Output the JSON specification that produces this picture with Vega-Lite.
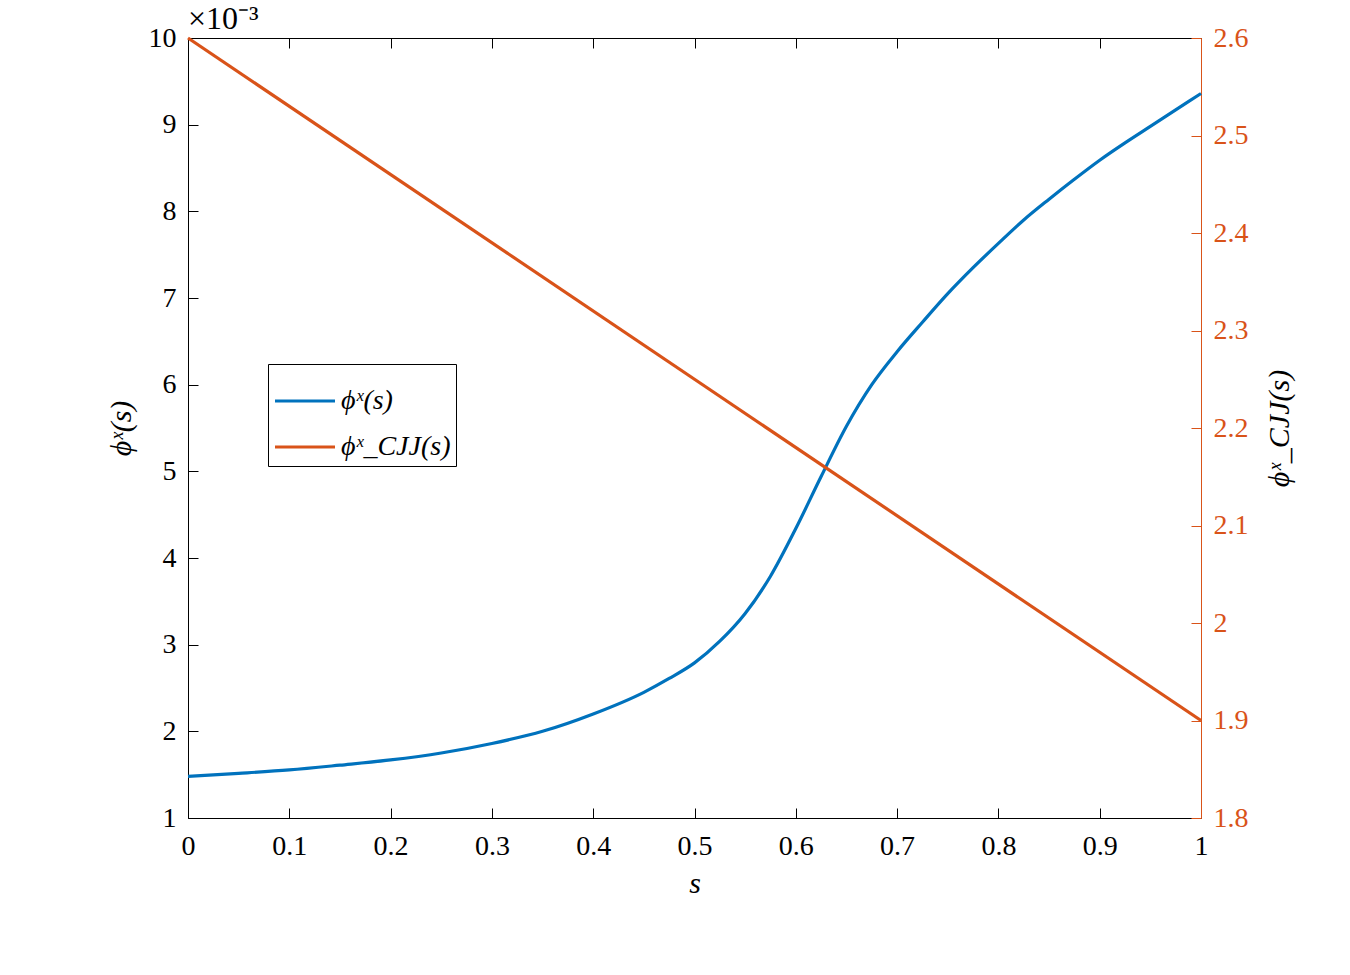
{
  "$schema": "https://vega.github.io/schema/vega-lite/v6.json",
  "width": 1013,
  "height": 780,
  "autosize": {"type": "none"},
  "padding": {"left": 188, "top": 38, "right": 149, "bottom": 157},
  "background": "white",
  "title": {"text": "×10⁻³", "anchor": "start", "frame": "group", "offset": -12, "fontSize": 32, "font": "Liberation Serif", "fontWeight": "normal", "color": "black"},
  "config": {
    "view": {"stroke": null},
    "font": "Liberation Serif",
    "axis": {"labelFont": "Liberation Serif", "titleFont": "Liberation Serif", "labelFontSize": 28, "titleFontSize": 30, "titleFontWeight": "normal", "titleFontStyle": "italic", "grid": false, "tickSize": -10, "domainWidth": 1, "tickWidth": 1, "labelPadding": 22}
  },
  "datasets": {
    "blue": [
      {"s": 0, "v": 1.48, "series": "ϕˣ(s)"},
      {"s": 0.05, "v": 1.515, "series": "ϕˣ(s)"},
      {"s": 0.1, "v": 1.555, "series": "ϕˣ(s)"},
      {"s": 0.15, "v": 1.61, "series": "ϕˣ(s)"},
      {"s": 0.2, "v": 1.67, "series": "ϕˣ(s)"},
      {"s": 0.25, "v": 1.75, "series": "ϕˣ(s)"},
      {"s": 0.3, "v": 1.86, "series": "ϕˣ(s)"},
      {"s": 0.35, "v": 2.0, "series": "ϕˣ(s)"},
      {"s": 0.4, "v": 2.2, "series": "ϕˣ(s)"},
      {"s": 0.45, "v": 2.45, "series": "ϕˣ(s)"},
      {"s": 0.475, "v": 2.61, "series": "ϕˣ(s)"},
      {"s": 0.5, "v": 2.79, "series": "ϕˣ(s)"},
      {"s": 0.525, "v": 3.04, "series": "ϕˣ(s)"},
      {"s": 0.55, "v": 3.36, "series": "ϕˣ(s)"},
      {"s": 0.575, "v": 3.79, "series": "ϕˣ(s)"},
      {"s": 0.6, "v": 4.34, "series": "ϕˣ(s)"},
      {"s": 0.625, "v": 4.94, "series": "ϕˣ(s)"},
      {"s": 0.65, "v": 5.52, "series": "ϕˣ(s)"},
      {"s": 0.675, "v": 6.0, "series": "ϕˣ(s)"},
      {"s": 0.7, "v": 6.38, "series": "ϕˣ(s)"},
      {"s": 0.725, "v": 6.72, "series": "ϕˣ(s)"},
      {"s": 0.75, "v": 7.05, "series": "ϕˣ(s)"},
      {"s": 0.775, "v": 7.35, "series": "ϕˣ(s)"},
      {"s": 0.8, "v": 7.63, "series": "ϕˣ(s)"},
      {"s": 0.825, "v": 7.9, "series": "ϕˣ(s)"},
      {"s": 0.85, "v": 8.14, "series": "ϕˣ(s)"},
      {"s": 0.875, "v": 8.37, "series": "ϕˣ(s)"},
      {"s": 0.9, "v": 8.59, "series": "ϕˣ(s)"},
      {"s": 0.925, "v": 8.79, "series": "ϕˣ(s)"},
      {"s": 0.95, "v": 8.98, "series": "ϕˣ(s)"},
      {"s": 0.975, "v": 9.17, "series": "ϕˣ(s)"},
      {"s": 1.0, "v": 9.36, "series": "ϕˣ(s)"}
    ],
    "orange": [
      {"s": 0, "v": 2.6, "series": "ϕˣ_CJJ(s)"},
      {"s": 0.5, "v": 2.25, "series": "ϕˣ_CJJ(s)"},
      {"s": 1.0, "v": 1.9, "series": "ϕˣ_CJJ(s)"}
    ]
  },
  "layer": [
    {
      "data": {"name": "blue"},
      "mark": {"type": "line", "strokeWidth": 3.2, "interpolate": "monotone"},
      "encoding": {
        "x": {"field": "s", "type": "quantitative", "scale": {"domain": [0, 1], "nice": false}, "axis": {"orient": "bottom", "values": [0, 0.1, 0.2, 0.3, 0.4, 0.5, 0.6, 0.7, 0.8, 0.9, 1], "format": "~g", "title": "s", "titlePadding": 8, "labelPadding": 24, "labelFont": "Liberation Serif", "titleFont": "Liberation Serif", "domainColor": "black", "tickColor": "black", "labelColor": "black", "titleColor": "black", "labelFlush": false}},
        "y": {"field": "v", "type": "quantitative", "scale": {"domain": [1, 10], "nice": false, "zero": false}, "axis": {"orient": "left", "values": [1, 2, 3, 4, 5, 6, 7, 8, 9, 10], "title": "ϕˣ(s)", "titlePadding": 12, "labelFont": "Liberation Serif", "titleFont": "Liberation Serif", "domainColor": "black", "tickColor": "black", "labelColor": "black", "titleColor": "black", "labelFlush": false}},
        "color": {"field": "series", "type": "nominal", "scale": {"domain": ["ϕˣ(s)", "ϕˣ_CJJ(s)"], "range": ["#0072BD", "#D95319"]},
          "legend": {"title": null, "orient": "none", "legendX": 80, "legendY": 326, "strokeColor": "black", "fillColor": "white", "padding": 5, "symbolType": "stroke", "symbolSize": 3600, "symbolStrokeWidth": 3.2, "labelFont": "Liberation Serif", "labelFontSize": 28, "labelFontStyle": "italic", "labelColor": "black", "labelOffset": 4, "rowPadding": 0}}
      }
    },
    {
      "data": {"name": "orange"},
      "mark": {"type": "line", "strokeWidth": 3.2},
      "encoding": {
        "x": {"field": "s", "type": "quantitative", "scale": {"domain": [0, 1], "nice": false}, "axis": {"orient": "top", "values": [0, 0.1, 0.2, 0.3, 0.4, 0.5, 0.6, 0.7, 0.8, 0.9, 1], "labels": false, "title": null, "labelPadding": 0, "minExtent": 0, "maxExtent": 0, "domainColor": "black", "tickColor": "black"}},
        "y": {"field": "v", "type": "quantitative", "scale": {"domain": [1.8, 2.6], "nice": false, "zero": false}, "axis": {"orient": "right", "values": [1.8, 1.9, 2.0, 2.1, 2.2, 2.3, 2.4, 2.5, 2.6], "format": "~g", "title": "ϕˣ_CJJ(s)", "titleAngle": 270, "titlePadding": 46, "labelFont": "Liberation Serif", "titleFont": "Liberation Serif", "domainColor": "#D95319", "tickColor": "#D95319", "labelColor": "#D95319", "titleColor": "black", "labelFlush": false}},
        "color": {"field": "series", "type": "nominal"}
      }
    }
  ],
  "resolve": {"scale": {"y": "independent"}, "axis": {"x": "independent", "y": "independent"}}
}
